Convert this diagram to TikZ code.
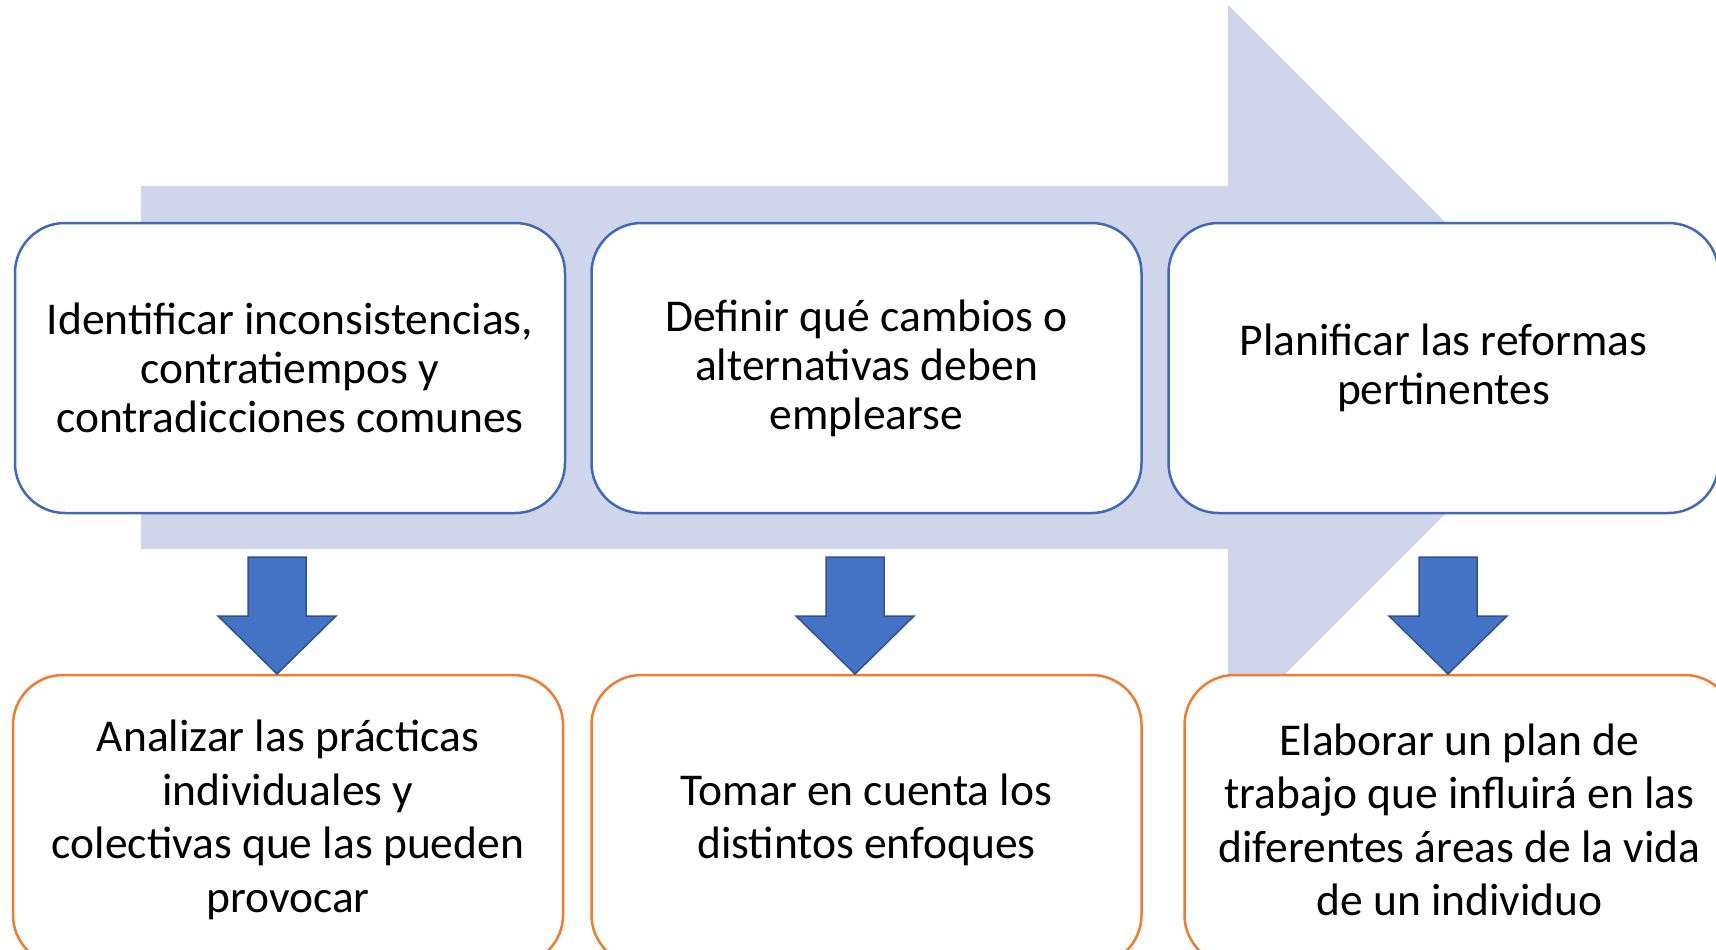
\documentclass[tikz,border=0pt]{standalone}
\usepackage{fontspec}
\setmainfont{Carlito}
\definecolor{bgarrow}{HTML}{CFD5EA}
\definecolor{accblue}{HTML}{4472C4}
\definecolor{boxblue}{HTML}{4169B8}
\definecolor{darkblue}{HTML}{2F528F}
\definecolor{accorange}{HTML}{ED7D31}
\tikzset{
  topbox/.style={draw=boxblue, line width=2.5pt, fill=white, rounded corners=50pt,
    minimum width=550pt, minimum height=290pt, align=center, inner sep=0pt,
    font=\fontsize{45.5}{49}\selectfont},
  botbox/.style={draw=accorange, line width=2.5pt, fill=white, rounded corners=50pt,
    minimum width=550pt, minimum height=290pt, align=center, inner sep=0pt,
    font=\fontsize{45.5}{53.5}\selectfont},
  blockarrow/.style={fill=accblue, draw=darkblue, line width=1.5pt, line join=miter}
}
\begin{document}
\begin{tikzpicture}[x=1pt,y=-1pt]
\useasboundingbox (0,0) rectangle (1716,950);
\clip (0,0) rectangle (1716,950);
% big background arrow
\fill[bgarrow] (141,186) -- (1228,186) -- (1228,5) -- (1591,368) -- (1228,731)
  -- (1228,549) -- (141,549) -- cycle;
% top boxes
\node[topbox] (t1) at (290,368) {Identificar inconsistencias,\\contratiempos y\\contradicciones comunes};
\node[topbox] (t2) at (866.5,368) {Definir qué cambios o\\alternativas deben\\emplearse};
\node[topbox] (t3) at (1443.5,368) {Planificar las reformas\\pertinentes};
% bottom boxes
\node[botbox] (b1) at (288,820) {Analizar las prácticas\\individuales y\\colectivas que las pueden\\provocar};
\node[botbox] (b2) at (866.5,820) {Tomar en cuenta los\\distintos enfoques};
\node[botbox] (b3) at (1459.5,820) {Elaborar un plan de\\trabajo que influirá en las\\diferentes áreas de la vida\\de un individuo};
% block arrows
\foreach \cx/\nm in {277/a1,855/a2,1448/a3}{
  \draw[blockarrow] (\cx-29,557) -- (\cx+29,557) -- (\cx+29,616) -- (\cx+59,616)
    -- (\cx,674) coordinate (\nm) -- (\cx-59,616) -- (\cx-29,616) -- cycle;
}
\end{tikzpicture}
\end{document}
